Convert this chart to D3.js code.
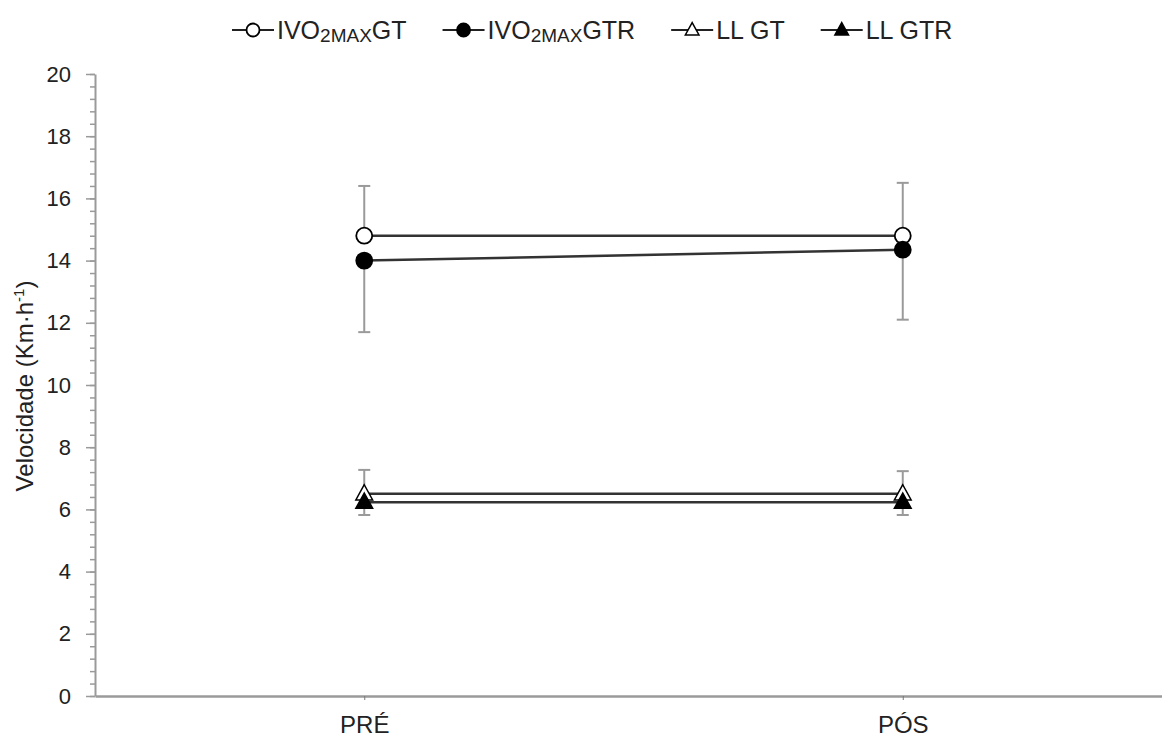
<!DOCTYPE html>
<html>
<head>
<meta charset="utf-8">
<script src="https://cdn.jsdelivr.net/npm/d3@7/dist/d3.min.js"></script>
<style>
  html, body { margin: 0; padding: 0; background: #fff; }
  svg { display: block; font-family: "Liberation Sans", Arial, sans-serif; }
</style>
</head>
<body>
<svg id="chart" width="1162" height="738"></svg>
<script>
// Momentos de avaliação
const momentos = ["PRÉ", "PÓS"];

// Médias de velocidade (km/h) por grupo
const ivoGT  = [14.8, 14.8];
const ivoGTR = [14.0, 14.35];
const llGT   = [6.5, 6.5];
const llGTR  = [6.23, 6.23];

// Desvios-padrão (GT para cima, GTR para baixo)
const ivoGTsd  = [1.6, 1.7];
const ivoGTRsd = [2.3, 2.25];
const llGTsd   = [0.77, 0.73];
const llGTRsd  = [0.41, 0.41];

const yMajorTicks = [0, 2, 4, 6, 8, 10, 12, 14, 16, 18, 20];
const yMinorTicks = d3.range(0, 20.0001, 0.4);

const series = [
  { name: "IVO", sub: "2MAX", suffix: "GT",  values: ivoGT,  sd: ivoGTsd,  dir: 1,  shape: "circle",   fill: "#fff" },
  { name: "IVO", sub: "2MAX", suffix: "GTR", values: ivoGTR, sd: ivoGTRsd, dir: -1, shape: "circle",   fill: "#000" },
  { name: "LL GT",  sub: "", suffix: "",     values: llGT,   sd: llGTsd,   dir: 1,  shape: "triangle", fill: "#fff" },
  { name: "LL GTR", sub: "", suffix: "",     values: llGTR,  sd: llGTRsd,  dir: -1, shape: "triangle", fill: "#000" }
];

const svg = d3.select("#chart");
const axisColor = "#9a9a9a";
const textColor = "#222";

const x = d3.scalePoint().domain(momentos).range([95, 1172]).padding(0.5);
const y = d3.scaleLinear().domain([0, 20]).range([696, 74]);

// Eixo Y: marcas menores e maiores
const yMinor = svg.append("g").attr("transform", "translate(95,0)")
  .call(d3.axisLeft(y).tickValues(yMinorTicks).tickSize(5).tickFormat(""));
yMinor.select(".domain").remove();
yMinor.selectAll("line").attr("stroke", axisColor).attr("stroke-width", 1.5);

const yAxis = svg.append("g").attr("transform", "translate(95,0)")
  .call(d3.axisLeft(y).tickValues(yMajorTicks).tickSize(9).tickPadding(15).tickSizeOuter(0));
yAxis.select(".domain").attr("stroke", axisColor).attr("stroke-width", 2);
yAxis.selectAll("line").attr("stroke", axisColor).attr("stroke-width", 1.5);
yAxis.selectAll("text").attr("fill", textColor).style("font-size", "22px");

// Eixo X
const xAxis = svg.append("g").attr("transform", "translate(0,696)")
  .call(d3.axisBottom(x).tickSize(4).tickPadding(16).tickSizeOuter(0));
xAxis.select(".domain").attr("stroke", axisColor).attr("stroke-width", 2.5);
xAxis.selectAll("line").attr("stroke", "#777").attr("stroke-width", 1);
xAxis.selectAll("text").attr("fill", textColor).style("font-size", "24px");

// Título do eixo Y
const yTitle = svg.append("text")
  .attr("transform", `translate(33,386) rotate(-90)`)
  .attr("text-anchor", "middle")
  .attr("fill", textColor)
  .style("font-size", "24px");
yTitle.append("tspan").text("Velocidade (Km·h");
yTitle.append("tspan").attr("dy", -9).style("font-size", "15px").text("-1");
yTitle.append("tspan").attr("dy", 9).text(")");

// Barras de erro
const errG = svg.append("g");
series.forEach(s => {
  momentos.forEach((m, i) => {
    const cx = x(m);
    const y0 = y(s.values[i]);
    const y1 = y(s.values[i] + s.dir * s.sd[i]);
    errG.append("line").attr("x1", cx).attr("x2", cx).attr("y1", y0).attr("y2", y1)
      .attr("stroke", axisColor).attr("stroke-width", 2);
    errG.append("line").attr("x1", cx - 6).attr("x2", cx + 6).attr("y1", y1).attr("y2", y1)
      .attr("stroke", axisColor).attr("stroke-width", 2);
  });
});

// Linhas
const line = d3.line().x((d, i) => x(momentos[i])).y(d => y(d));
series.forEach(s => {
  svg.append("path").datum(s.values).attr("d", line)
    .attr("fill", "none").attr("stroke", "#333").attr("stroke-width", 2.5);
});

function drawMarker(g, shape, fill, cx, cy, size) {
  if (shape === "circle") {
    g.append("circle").attr("cx", cx).attr("cy", cy).attr("r", size)
      .attr("fill", fill).attr("stroke", "#000").attr("stroke-width", 1.8);
  } else {
    const h = size * 1.9, w = size * 2.1;
    const pts = [[cx, cy - h * 0.6], [cx - w / 2, cy + h * 0.4], [cx + w / 2, cy + h * 0.4]];
    g.append("polygon").attr("points", pts.map(p => p.join(",")).join(" "))
      .attr("fill", fill).attr("stroke", "#000").attr("stroke-width", 1.5);
  }
}

// Marcadores
const markG = svg.append("g");
series.forEach(s => {
  momentos.forEach((m, i) => drawMarker(markG, s.shape, s.fill, x(m), y(s.values[i]), 8));
});

// Legenda
const legend = svg.append("g");
let lx = 232;
const ly = 30;
series.forEach(s => {
  legend.append("line").attr("x1", lx).attr("x2", lx + 42).attr("y1", ly).attr("y2", ly)
    .attr("stroke", "#222").attr("stroke-width", 2);
  drawMarker(legend, s.shape, s.fill, lx + 21, ly, 6.5);
  const t = legend.append("text").attr("x", lx + 45).attr("y", ly + 9)
    .attr("fill", textColor).style("font-size", "25px");
  t.append("tspan").text(s.name);
  if (s.sub) {
    t.append("tspan").attr("dy", 3).style("font-size", "19px").text(s.sub);
    t.append("tspan").attr("dy", -3).text(s.suffix);
  }
  lx = lx + 45 + t.node().getComputedTextLength() + 36;
});
</script>
</body>
</html>
